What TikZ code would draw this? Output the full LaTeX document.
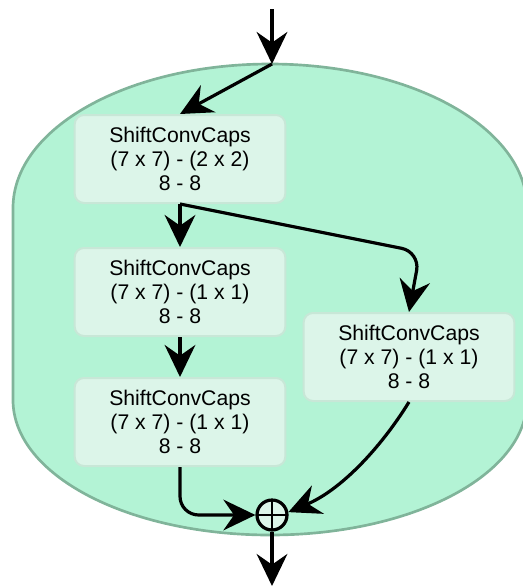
\documentclass[tikz,border=0pt]{standalone}
\usepackage{fontspec}
\setmainfont{Liberation Sans}
\usepackage{tikz}
\usetikzlibrary{arrows.meta, positioning, calc}
\definecolor{shellfill}{RGB}{179,243,213}
\definecolor{shelledge}{RGB}{128,180,154}
\definecolor{capsfill}{RGB}{220,245,233}
\definecolor{capsedge}{RGB}{200,231,215}

\begin{document}
\begin{tikzpicture}[x=0.75pt, y=-0.75pt,
    capsbox/.style={draw=capsedge, fill=capsfill, line width=1.5pt,
      rounded corners=7pt, minimum width=158pt, minimum height=66pt,
      align=center, font=\fontsize{15.9}{18.2}\selectfont},
    sumnode/.style={circle, draw, fill=capsfill, line width=2.4pt,
      minimum size=22.5pt, inner sep=0pt,
      path picture={\draw[line width=1.8pt]
        (path picture bounding box.north) -- (path picture bounding box.south)
        (path picture bounding box.west) -- (path picture bounding box.east);}},
    flow/.style={-{Stealth[length=24pt, width=23pt, inset=8pt]}, line width=2.4pt}]
  \useasboundingbox (0,0) rectangle (523,587);
  % outer block
  \draw[fill=shellfill, draw=shelledge, line width=2pt]
    (13,400) -- (13,208) .. controls (13,128) and (128,64) .. (270,64)
    .. controls (412,64) and (527,128) .. (527,208) -- (527,400)
    .. controls (527,475) and (412,535) .. (270,535)
    .. controls (128,535) and (13,475) .. (13,400) -- cycle;
  \foreach \s/\y [count=\i] in {2 x 2/159, 1 x 1/292, 1 x 1/422} {
    \node[capsbox] (c\i) at (180,\y) {ShiftConvCaps\\(7 x 7) - (\s)\\8 - 8};
  }
  \node[capsbox] (sc) at (409,357) {ShiftConvCaps\\(7 x 7) - (1 x 1)\\8 - 8};
  \node[sumnode] (add) at (272,515) {};
  \coordinate (in) at (272,9);
  \coordinate (split) at (272,64);
  \coordinate (bend) at (420,252);
  \coordinate (out) at (272,586);
  \draw[flow] (in) -- (split);
  \draw[flow] (split) -- (c1.north);
  \draw[flow] (c1.south) -- (c2.north);
  \draw[flow, rounded corners=14pt] (c1.south) -- (bend) -- (sc.north);
  \draw[flow] (c2.south) -- (c3.north);
  \draw[flow, rounded corners=14pt] (c3.south) |- (add.west);
  \draw[flow] (sc.south) .. controls +(-29,47) and +(52,-22) .. (add.10);
  \draw[flow] (add.south) -- (out);
\end{tikzpicture}
\end{document}
